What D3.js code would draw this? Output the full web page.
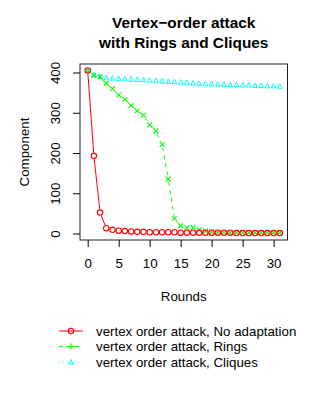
<!DOCTYPE html>
<html><head><meta charset="utf-8">
<script src="https://cdn.jsdelivr.net/npm/d3@7"></script>
<style>body{margin:0;background:#fff}svg{display:block;font-family:"Liberation Sans",Arial,Helvetica,sans-serif}</style>
</head><body>
<script>
const rounds = d3.range(0, 32);
const noAdaptation = [405,193,52,13,9,7,6,5,4,4,3,3,3,3,3,2,2,2,2,2,2,2,2,2,1,1,1,1,1,1,1,1];
const rings = [405,393,389,373,360,344,333,318,305,294,270,255,221,135,38,19,15,15,9,6,4,3,3,2,2,2,2,2,2,2,2,2];
const cliques = [405,395,390,387,386,385,384,384,383,382,381,380,379,378,377,376,375,374,373,372,372,371,371,370,370,369,369,368,368,367,367,366];
const xTicks = [0,5,10,15,20,25,30];
const yTicks = [0,100,200,300,400];
const legendLabels = ["vertex order attack, No adaptation","vertex order attack, Rings","vertex order attack, Cliques"];
const titleLines = ["Vertex\u2212order attack","with Rings and Cliques"];

const W=320,H=400;
const FS=13.3;
const svg=d3.select("body").append("svg").attr("width",W).attr("height",H);
const L=80,R=287.5,T=64,B=240;
const x=d3.scaleLinear().domain([-1.24,32.24]).range([L,R]);
const y=d3.scaleLinear().domain([-16.2,421.2]).range([B,T]);

const series=[
 {vals:noAdaptation,color:"#ff0000",dash:null,mark:"circle",lmark:"circle",gap:3},
 {vals:rings,color:"#00ff00",dash:"4,4",mark:"x",lmark:"plus",gap:3},
 {vals:cliques,color:"#00ffff",dash:"1,3",mark:"tri",lmark:"tri",gap:3}
];

function drawMark(g,type,cx,cy,color){
  if(type==="circle"){
    g.append("circle").attr("cx",cx).attr("cy",cy).attr("r",2.7).attr("fill","none").attr("stroke",color).attr("stroke-width",1.1);
  } else if(type==="x"){
    const s=2.4;
    g.append("path").attr("d",`M${cx-s},${cy-s}L${cx+s},${cy+s}M${cx-s},${cy+s}L${cx+s},${cy-s}`).attr("stroke",color).attr("stroke-width",1.1).attr("fill","none");
  } else if(type==="plus"){
    const s=3;
    g.append("path").attr("d",`M${cx-s},${cy}L${cx+s},${cy}M${cx},${cy-s}L${cx},${cy+s}`).attr("stroke",color).attr("stroke-width",1.1).attr("fill","none");
  } else if(type==="tri"){
    const s=2.3;
    g.append("path").attr("d",`M${cx-s},${cy+s*0.9}L${cx},${cy-s*1.1}L${cx+s},${cy+s*0.9}Z`).attr("stroke",color).attr("stroke-width",1).attr("fill","none");
  }
}

const plot=svg.append("g");
[...series].reverse().forEach(s=>{
  const g=plot.append("g");
  const pts=s.vals.map((v,i)=>[x(rounds[i]),y(v)]);
  for(let i=0;i<pts.length-1;i++){
    const [x1,y1]=pts[i],[x2,y2]=pts[i+1];
    const dx=x2-x1,dy=y2-y1,d=Math.hypot(dx,dy);
    if(d>2*s.gap){
      const ux=dx/d,uy=dy/d;
      const seg=g.append("line").attr("x1",x1+ux*s.gap).attr("y1",y1+uy*s.gap)
        .attr("x2",x2-ux*s.gap).attr("y2",y2-uy*s.gap).attr("stroke",s.color).attr("stroke-width",1);
      if(s.dash) seg.attr("stroke-dasharray",s.dash);
    }
  }
  pts.forEach(p=>drawMark(g,s.mark,p[0],p[1],s.color));
});

svg.append("rect").attr("x",L).attr("y",T).attr("width",R-L).attr("height",B-T).attr("fill","none").attr("stroke","#222").attr("stroke-width",1);

const xa=svg.append("g").attr("transform",`translate(0,${B})`)
  .call(d3.axisBottom(x).tickValues(xTicks).tickSize(7).tickPadding(12).tickFormat(d3.format("d")));
xa.select(".domain").remove();
xa.selectAll("text").attr("font-size",FS).attr("fill","#000").attr("font-family","Liberation Sans, Arial, sans-serif");
xa.selectAll("line").attr("stroke","#000");

const ya=svg.append("g").attr("transform",`translate(${L},0)`)
  .call(d3.axisLeft(y).tickValues(yTicks).tickSize(7).tickFormat(d3.format("d")));
ya.select(".domain").remove();
ya.selectAll("line").attr("stroke","#000");
ya.selectAll("text").attr("font-size",FS).attr("fill","#000").attr("font-family","Liberation Sans, Arial, sans-serif")
  .attr("text-anchor","middle").attr("x",null).attr("dy",null).attr("transform","translate(-20,0) rotate(-90)");

svg.append("text").attr("x",(L+R)/2).attr("y",301).attr("text-anchor","middle").attr("font-size",FS).text("Rounds");
svg.append("text").attr("transform",`translate(29,${(T+B)/2}) rotate(-90)`).attr("text-anchor","middle").attr("font-size",FS).text("Component");

titleLines.forEach((t,i)=>{
  svg.append("text").attr("x",(L+R)/2).attr("y",28+i*20).attr("text-anchor","middle")
    .attr("font-size",15.4).attr("font-weight","bold").text(t);
});

series.forEach((s,i)=>{
  const ly=331+i*15.5;
  const g=svg.append("g");
  const ln=g.append("line").attr("x1",59).attr("x2",83).attr("y1",ly).attr("y2",ly).attr("stroke",s.color).attr("stroke-width",1);
  if(s.dash) ln.attr("stroke-dasharray",s.dash);
  drawMark(g,s.lmark,71,ly,s.color);
  svg.append("text").attr("x",96).attr("y",ly+4.5).attr("font-size",FS).text(legendLabels[i]);
});
</script>
</body></html>
